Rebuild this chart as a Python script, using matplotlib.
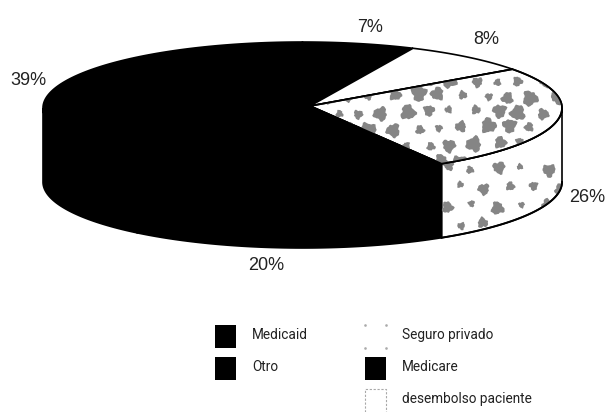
import numpy as np
import matplotlib
matplotlib.use("Agg")
import matplotlib.pyplot as plt
from matplotlib.patches import Polygon, Rectangle

plt.rcParams['font.family'] = ['Liberation Sans', 'DejaVu Sans']
LEGEND_FONT = ['Roboto', 'DejaVu Sans']

# Share of payment by source, clockwise from twelve o'clock
sources = ["Otro", "Seguro privado", "desembolso paciente", "Medicare", "Medicaid"]
shares = [7, 8, 26, 20, 39]
fills = ["black", "white", "pattern", "black", "black"]
share_labels = ["7%", "8%", "26%", "20%", "39%"]

legend_col1 = ["Medicaid", "Otro"]
legend_col2 = ["Seguro privado", "Medicare", "desembolso paciente"]
legend_fill1 = ["black", "black"]
legend_fill2 = ["white", "black", "pattern"]

# Disc geometry in pixel coordinates
CX, CY, RX, RY, DEPTH = 302.5, 108.0, 259.5, 66.0, 74.0
APEX = (310.0, 106.0)
GRAY = "#858585"

fig = plt.figure(figsize=(6.05, 4.12), dpi=100)
ax = fig.add_axes([0, 0, 1, 1])
ax.set_xlim(0, 605)
ax.set_ylim(412, 0)
ax.axis("off")


def rim(a0, a1, drop=0.0, n=120):
    t = np.radians(np.linspace(a0, a1, n))
    return np.column_stack([CX + RX * np.cos(t), CY - RY * np.sin(t) + drop])


def blob(x, y, r, seed):
    # Irregular speckled spot used by the stippled fill
    t = np.linspace(0, 2 * np.pi, 28, endpoint=False)
    k = 1 + 0.16 * np.sin(3 * t + seed) + 0.1 * np.sin(5 * t + 2.3 * seed) + 0.07 * np.sin(9 * t + seed * 0.7)
    return np.column_stack([x + r * k * np.cos(t), y + r * k * np.sin(t)])


def stipple(patch, x0, x1, y0, y1, dx=25.0, dy=21.0, r=6.0):
    row = 0
    y = y0
    while y < y1:
        x = x0 + (dx / 2 if row % 2 else 0)
        while x < x1:
            s = x * 0.37 + y * 0.91
            px = x + 3 * np.sin(s * 1.7)
            py = y + 2.5 * np.cos(s * 2.3)
            size = r * (0.85 + 0.3 * np.sin(s * 3.1))
            spot = Polygon(blob(px, py, size, s), closed=True, fc=GRAY, ec="none", zorder=patch.get_zorder() + 0.1)
            ax.add_patch(spot)
            spot.set_clip_path(patch)
            x += dx
        y += dy
        row += 1


# Walk around the disc once to get each slice's angular span
bounds = 90 - 3.6 * np.concatenate([[0], np.cumsum(shares)])
spans = list(zip(bounds[:-1], bounds[1:]))

# Side wall, only where it faces the viewer
for (a0, a1), fill in zip(spans, fills):
    for shift in (0, -360):
        lo, hi = max(a1 + shift, -180), min(a0 + shift, 0)
        if lo < hi:
            top = rim(hi, lo)
            bottom = rim(lo, hi, DEPTH)
            face = "white" if fill != "black" else "black"
            wall = Polygon(np.vstack([top, bottom]), closed=True, fc=face, ec="black", lw=1.2, zorder=2)
            ax.add_patch(wall)
            if fill == "pattern":
                stipple(wall, 447, 565, 168, 240, dx=25, dy=19, r=5.5)
                ax.plot(bottom[:, 0], bottom[:, 1], color="black", lw=1.4, zorder=3)

# Top face
for (a0, a1), fill in zip(spans, fills):
    pts = np.vstack([[APEX], rim(a0, a1), [APEX]])
    face = "white" if fill != "black" else "black"
    top = Polygon(pts, closed=True, fc=face, ec="black", lw=1.2, zorder=4)
    ax.add_patch(top)
    if fill == "pattern":
        stipple(top, 325, 560, 64, 165, dx=23, dy=16, r=6.5)
        ax.add_patch(Polygon(pts, closed=True, fc="none", ec="black", lw=1.3, zorder=5))

# Percentage labels
label_xy = [(370, 27), (486, 39), (587, 197), (266, 265), (28, 80)]
for text, (x, y) in zip(share_labels, label_xy):
    ax.text(x, y, text, ha="center", va="center", fontsize=13, color="#222222")


def swatch(x, y, w, h, fill):
    if fill == "black":
        ax.add_patch(Rectangle((x, y), w, h, fc="black", ec="none"))
    elif fill == "pattern":
        ax.plot([x, x, x + w, x + w], [y + h, y, y, y + h], color="#a8a8a8", lw=0.8, ls=(0, (2, 1.5)))
    else:
        ax.plot([x, x + w, x, x + w], [y, y, y + h, y + h], ls="none", marker="s", ms=0.8, color="#aaaaaa")


# Legend, two hand-placed columns
rows = [336, 368, 400]
for name, fill, yc in zip(legend_col1, legend_fill1, rows):
    swatch(215, yc - 11.5, 21, 23, fill)
    ax.text(252, yc - 1, name, ha="left", va="center", fontsize=9.8, family=LEGEND_FONT, color="#222222")
for name, fill, yc in zip(legend_col2, legend_fill2, rows):
    swatch(365, yc - 11.5, 21, 23, fill)
    ax.text(402, yc - 1, name, ha="left", va="center", fontsize=9.8, family=LEGEND_FONT, color="#222222")

fig.savefig("out.png", dpi=100)
